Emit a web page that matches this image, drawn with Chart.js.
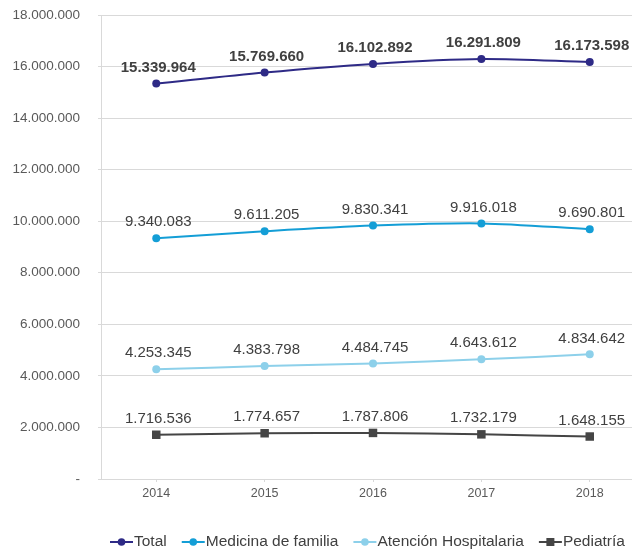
<!DOCTYPE html>
<html>
<head>
<meta charset="utf-8">
<script src="https://cdn.jsdelivr.net/npm/chart.js@4/dist/chart.umd.min.js"></script>
<style>
  html, body { margin: 0; padding: 0; background: #ffffff; }
  #wrap { width: 632px; height: 554px; position: relative; }
</style>
</head>
<body>
<div id="wrap"><canvas id="c" width="632" height="554"></canvas></div>
<script>
const years = [2014, 2015, 2016, 2017, 2018];
const total = [15339964, 15769660, 16102892, 16291809, 16173598];
const medicinaFamilia = [9340083, 9611205, 9830341, 9916018, 9690801];
const atencionHospitalaria = [4253345, 4383798, 4484745, 4643612, 4834642];
const pediatria = [1716536, 1774657, 1787806, 1732179, 1648155];
const yTicks = [0, 2000000, 4000000, 6000000, 8000000, 10000000, 12000000, 14000000, 16000000, 18000000];

const FONT = "'Liberation Sans', Arial, sans-serif";
const fmt = v => v === 0 ? '-' : String(v).replace(/\B(?=(\d{3})+(?!\d))/g, '.');

const series = [
  { label: 'Total', data: total, color: '#2E2A86', shape: 'circle', bold: true },
  { label: 'Medicina de familia', data: medicinaFamilia, color: '#149ED6', shape: 'circle', bold: false },
  { label: 'Atención Hospitalaria', data: atencionHospitalaria, color: '#8DD0EA', shape: 'circle', bold: false },
  { label: 'Pediatría', data: pediatria, color: '#454545', shape: 'rect', bold: false }
];

const datasets = series.map(s => ({
  label: s.label,
  data: years.map((y, i) => ({ x: y, y: s.data[i] })),
  borderColor: s.color,
  backgroundColor: s.color,
  pointBackgroundColor: s.color,
  pointBorderColor: s.color,
  pointStyle: s.shape,
  pointRadius: s.shape === 'rect' ? 6 : 4,
  pointBorderWidth: 0,
  borderWidth: 2,
  tension: 0.3,
  bold: s.bold
}));

const valueLabels = {
  id: 'valueLabels',
  afterDatasetsDraw(chart) {
    const ctx = chart.ctx;
    ctx.save();
    ctx.textAlign = 'center';
    ctx.textBaseline = 'middle';
    ctx.fillStyle = '#404040';
    chart.data.datasets.forEach((ds, di) => {
      const meta = chart.getDatasetMeta(di);
      ctx.font = (ds.bold ? 'bold ' : '') + '15px ' + FONT;
      meta.data.forEach((pt, i) => {
        ctx.fillText(fmt(ds.data[i].y), pt.x + 2, pt.y - 16);
      });
    });
    ctx.restore();
  }
};

const lineLegend = {
  id: 'lineLegend',
  afterDraw(chart) {
    const ctx = chart.ctx;
    ctx.save();
    ctx.font = '15.5px ' + FONT;
    ctx.textBaseline = 'middle';
    ctx.textAlign = 'left';
    const y = 542;
    let x = 110;
    chart.data.datasets.forEach(ds => {
      const c = ds.borderColor;
      ctx.strokeStyle = c;
      ctx.fillStyle = c;
      ctx.lineWidth = 2;
      ctx.beginPath(); ctx.moveTo(x, y); ctx.lineTo(x + 23, y); ctx.stroke();
      if (ds.pointStyle === 'rect') {
        ctx.fillRect(x + 11.5 - 4, y - 4, 8, 8);
      } else {
        ctx.beginPath(); ctx.arc(x + 11.5, y, 3.8, 0, Math.PI * 2); ctx.fill();
      }
      x += 24;
      ctx.fillStyle = '#404040';
      ctx.fillText(ds.label, x, y);
      x += ctx.measureText(ds.label).width + 15;
    });
    ctx.restore();
  }
};

new Chart(document.getElementById('c'), {
  type: 'line',
  data: { datasets },
  options: {
    responsive: false,
    animation: false,
    events: [],
    layout: { autoPadding: false, padding: { left: 0, right: 0, top: 15, bottom: 26 } },
    plugins: {
      tooltip: { enabled: false },
      legend: { display: false }
    },
    scales: {
      x: {
        type: 'linear',
        min: 2013.49,
        max: 2018.39,
        afterBuildTicks(axis) { axis.ticks = years.map(v => ({ value: v })); },
        afterFit(axis) { axis.height = 49; axis.paddingLeft = 0; axis.paddingRight = 0; },
        ticks: {
          color: '#595959',
          font: { family: FONT, size: 12.5 },
          padding: 4,
          maxRotation: 0,
          autoSkip: false,
          callback: v => String(v)
        },
        grid: { drawOnChartArea: false, tickLength: 3, color: '#d9d9d9' },
        border: { color: '#d9d9d9', width: 1 }
      },
      y: {
        min: 0,
        max: 18000000,
        afterBuildTicks(axis) { axis.ticks = yTicks.map(v => ({ value: v })); },
        afterFit(axis) { axis.width = 101; axis.paddingTop = 0; axis.paddingBottom = 0; },
        ticks: {
          color: '#595959',
          font: { family: FONT, size: 13.5 },
          padding: 18,
          callback: v => fmt(v)
        },
        grid: { color: '#d9d9d9', tickLength: 3, lineWidth: 1 },
        border: { color: '#d9d9d9', width: 1 }
      }
    }
  },
  plugins: [valueLabels, lineLegend]
});
</script>
</body>
</html>
